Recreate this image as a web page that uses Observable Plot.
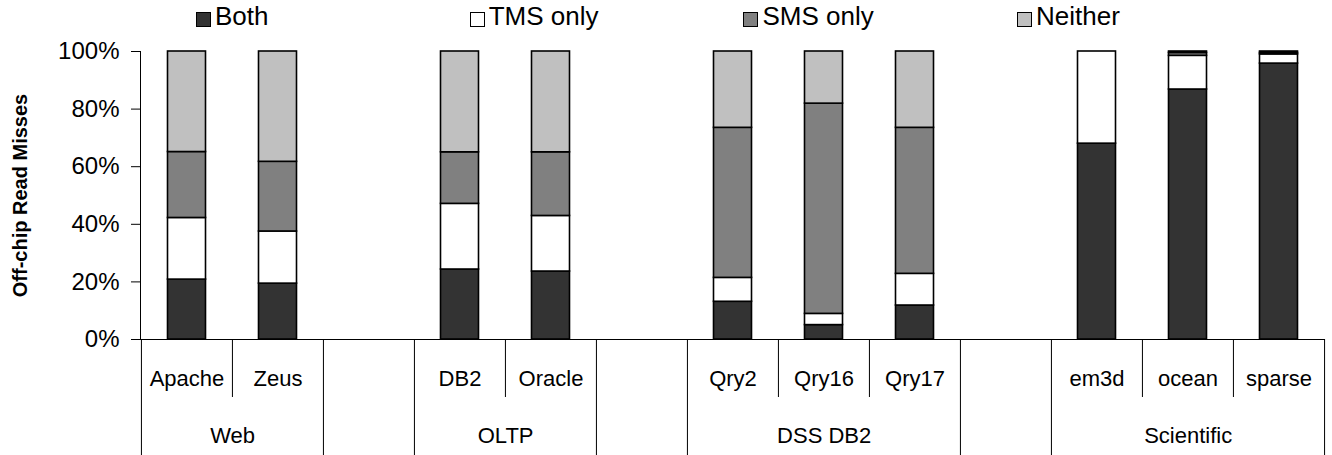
<!DOCTYPE html>
<html><head><meta charset="utf-8">
<script src="https://cdn.jsdelivr.net/npm/d3@7"></script>
<script src="https://cdn.jsdelivr.net/npm/@observablehq/plot@0.6"></script>
<style>
body{margin:0;background:#fff;}
#wrap{position:relative;width:1332px;height:455px;font-family:"Liberation Sans",Arial,sans-serif;color:#000;}
#legend{position:absolute;left:196px;top:0;height:40px;}
.item{position:absolute;top:0;height:40px;white-space:nowrap;}
.sw{position:absolute;top:12px;left:0;width:15px;height:15px;border:1px solid #000;box-sizing:border-box;}
.lt{position:absolute;top:3px;left:19px;font-size:26px;line-height:26px;}
</style></head><body><div id="wrap"><div id="legend"></div></div>
<script>
// ---- data ----
const categories = ["Apache","Zeus","DB2","Oracle","Qry2","Qry16","Qry17","em3d","ocean","sparse"];
const groups     = ["Web","Web","OLTP","OLTP","DSS DB2","DSS DB2","DSS DB2","Scientific","Scientific","Scientific"];
const seriesNames = ["Both","TMS only","SMS only","Neither"];
const seriesColors = ["#333333","#ffffff","#808080","#c0c0c0"];
const both    = [20.8,19.4,24.3,23.6,13.1,5.0,11.8,68.0,86.8,95.8];
const tmsOnly = [21.4,18.1,22.8,19.3,8.3,3.9,11.0,32.0,11.7,3.2];
const smsOnly = [22.9,24.2,17.9,22.1,52.1,73.0,50.7,0.0,1.0,0.5];
const neither = [34.9,38.3,35.0,35.0,26.5,18.1,26.5,0.0,0.5,0.5];
const yTicks = [0,20,40,60,80,100];
const yLabel = "Off-chip Read Misses";

// ---- layout ----
const W = 1332, H = 455, ML = 140, MR = 7, MT = 51, MB = 116;
const groupNames = [...new Set(groups)];
const slots = [];
groupNames.forEach((g, gi) => {
  categories.forEach((c, i) => { if (groups[i] === g) slots.push(c); });
  if (gi < groupNames.length - 1) slots.push("gap" + gi);
});
const step = (W - ML - MR) / slots.length;

const seriesValues = [both, tmsOnly, smsOnly, neither];
const rows = [];
seriesNames.forEach((s, si) => categories.forEach((c, i) => rows.push({cat: c, series: s, value: seriesValues[si][i]})));

// separators
const longLeft = [];   // group boundaries (left edge of slot)
const shortLeft = [];  // within-group boundaries
slots.forEach((s, i) => {
  if (s.startsWith("gap")) { longLeft.push(s); return; }
  const ci = categories.indexOf(s);
  if (ci === 0 || groups[ci - 1] !== groups[ci]) longLeft.push(s);
  else shortLeft.push(s);
});
const lastSlot = [slots[slots.length - 1]];

const font = "Liberation Sans, Arial, sans-serif";
const groupMarks = groupNames.map(g => {
  const members = categories.filter((c, i) => groups[i] === g);
  return Plot.text([g], {x: () => members[0], y: 0, text: d => d, dx: (members.length - 1) * step / 2,
    dy: 96, fontSize: 22, lineAnchor: "middle", fill: "#000"});
});

const chart = Plot.plot({
  width: W, height: H, marginLeft: ML, marginRight: MR, marginTop: MT, marginBottom: MB,
  style: {fontFamily: font, background: "#fff", overflow: "visible"},
  x: {type: "band", domain: slots, padding: 0, axis: null},
  y: {domain: [0, 100], axis: null},
  color: {domain: seriesNames, range: seriesColors},
  marks: [
    Plot.barY(rows, {x: "cat", y: "value", fill: "series", stroke: "#000", strokeWidth: 1.6,
      insetLeft: 26.5, insetRight: 26.5}),
    Plot.frame({anchor: "left", stroke: "#000"}),
    Plot.ruleY([0], {stroke: "#000", strokeWidth: 1}),
    Plot.axisY(yTicks, {tickFormat: d => d + "%", tickSize: 9, tickPadding: 12, fontSize: 24, label: null, stroke: "#000"}),
    Plot.text([yLabel], {frameAnchor: "left", textAnchor: "middle", rotate: -90, dx: -120, text: d => d, fontWeight: "bold", fontSize: 20, fill: "#000"}),
    Plot.ruleX(longLeft, {x: d => d, y1: 0, y2: 0, dx: -step / 2, insetBottom: -116, stroke: "#000"}),
    Plot.ruleX(lastSlot, {x: d => d, y1: 0, y2: 0, dx: step / 2, insetBottom: -116, stroke: "#000"}),
    Plot.ruleX(shortLeft, {x: d => d, y1: 0, y2: 0, dx: -step / 2, insetBottom: -58, stroke: "#000"}),
    Plot.text(categories, {x: d => d, y: 0, text: d => d, dy: 39, fontSize: 22, lineAnchor: "middle", fill: "#000"}),
    ...groupMarks
  ]
});
document.getElementById("wrap").appendChild(chart);

// legend
const leg = document.getElementById("legend");
seriesNames.forEach((s, i) => {
  const it = document.createElement("div");
  it.className = "item";
  it.style.left = (i * 273.7) + "px";
  const sw = document.createElement("span");
  sw.className = "sw"; sw.style.background = seriesColors[i];
  const t = document.createElement("span");
  t.className = "lt"; t.textContent = s;
  it.appendChild(sw); it.appendChild(t);
  leg.appendChild(it);
});
</script></body></html>
